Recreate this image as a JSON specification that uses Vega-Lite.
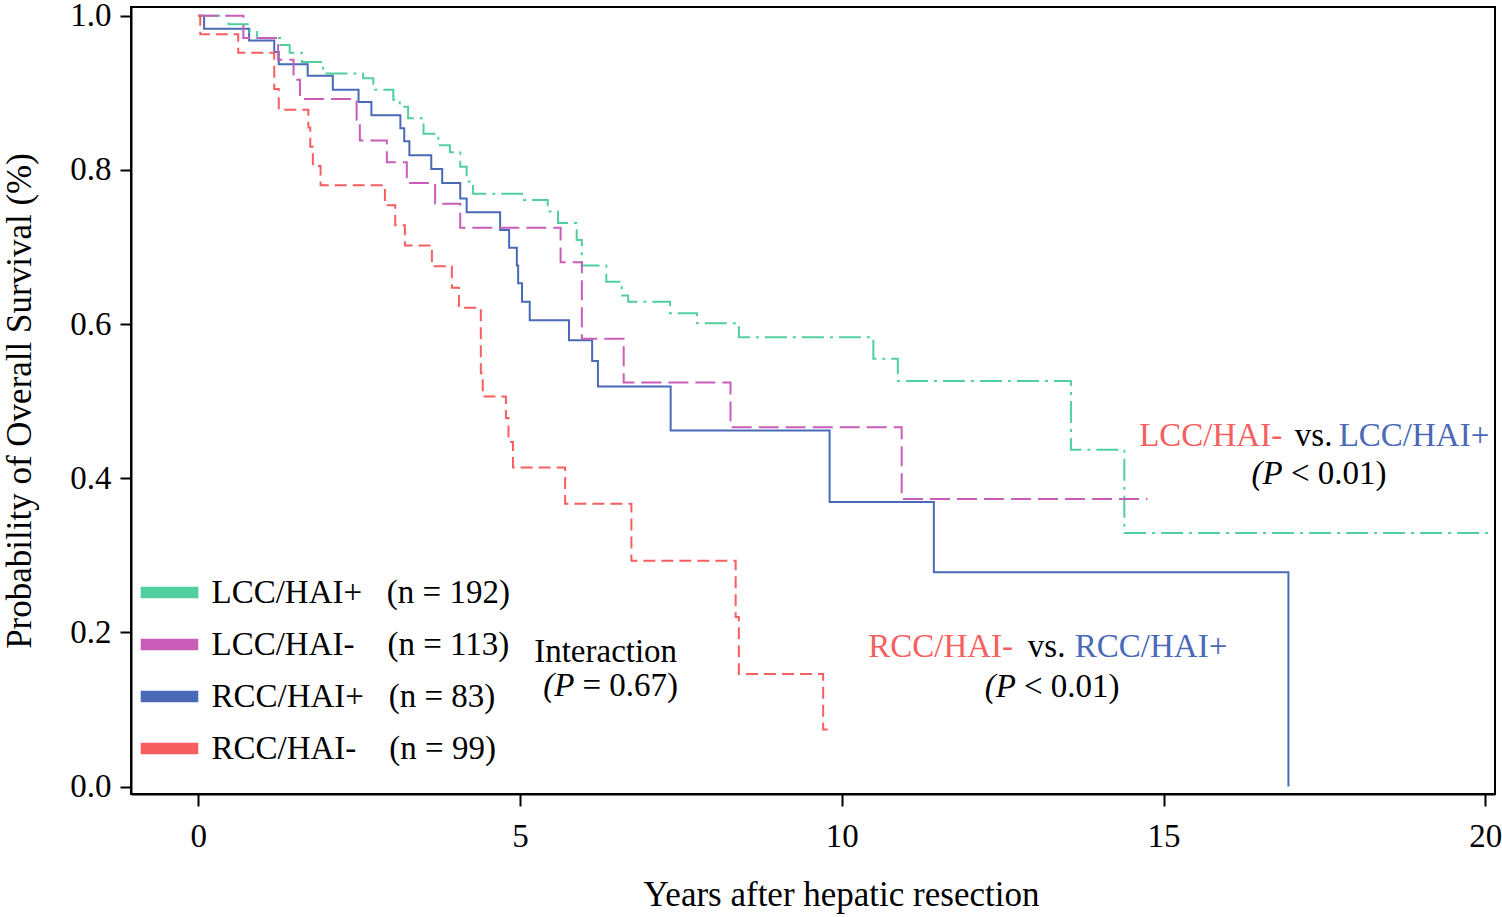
{
  "$schema": "https://vega.github.io/schema/vega-lite/v6.json",
  "width": 1364,
  "height": 787,
  "autosize": {"type": "none"},
  "padding": {"left": 131, "top": 7, "right": 7, "bottom": 123},
  "background": "white",
  "config": {
    "view": {"stroke": "black", "strokeWidth": 2},
    "font": "Liberation Serif",
    "axis": {
      "labelFont": "Liberation Serif",
      "titleFont": "Liberation Serif",
      "labelColor": "black",
      "titleColor": "black",
      "domainColor": "black",
      "tickColor": "black",
      "domainWidth": 2,
      "tickWidth": 2,
      "grid": false,
      "labelFontSize": 33,
      "titleFontSize": 35,
      "titleFontWeight": "normal"
    },
    "legend": {
      "labelFont": "Liberation Serif",
      "labelFontSize": 33,
      "labelColor": "black"
    }
  },
  "datasets": {
    "km": [
      {"group": "LCC/HAI+", "t": 0, "s": 1.0},
      {"group": "LCC/HAI+", "t": 0.47, "s": 0.989},
      {"group": "LCC/HAI+", "t": 0.80, "s": 0.979},
      {"group": "LCC/HAI+", "t": 0.91, "s": 0.971},
      {"group": "LCC/HAI+", "t": 1.27, "s": 0.962},
      {"group": "LCC/HAI+", "t": 1.42, "s": 0.952},
      {"group": "LCC/HAI+", "t": 1.61, "s": 0.940},
      {"group": "LCC/HAI+", "t": 1.94, "s": 0.925},
      {"group": "LCC/HAI+", "t": 2.56, "s": 0.919},
      {"group": "LCC/HAI+", "t": 2.72, "s": 0.904},
      {"group": "LCC/HAI+", "t": 3.03, "s": 0.891},
      {"group": "LCC/HAI+", "t": 3.13, "s": 0.882},
      {"group": "LCC/HAI+", "t": 3.26, "s": 0.867},
      {"group": "LCC/HAI+", "t": 3.50, "s": 0.847},
      {"group": "LCC/HAI+", "t": 3.73, "s": 0.832},
      {"group": "LCC/HAI+", "t": 3.91, "s": 0.823},
      {"group": "LCC/HAI+", "t": 4.07, "s": 0.804},
      {"group": "LCC/HAI+", "t": 4.17, "s": 0.785},
      {"group": "LCC/HAI+", "t": 4.27, "s": 0.769},
      {"group": "LCC/HAI+", "t": 5.03, "s": 0.761},
      {"group": "LCC/HAI+", "t": 5.43, "s": 0.746},
      {"group": "LCC/HAI+", "t": 5.59, "s": 0.731},
      {"group": "LCC/HAI+", "t": 5.88, "s": 0.709},
      {"group": "LCC/HAI+", "t": 5.96, "s": 0.676},
      {"group": "LCC/HAI+", "t": 6.34, "s": 0.655},
      {"group": "LCC/HAI+", "t": 6.58, "s": 0.637},
      {"group": "LCC/HAI+", "t": 6.68, "s": 0.629},
      {"group": "LCC/HAI+", "t": 7.33, "s": 0.614},
      {"group": "LCC/HAI+", "t": 7.75, "s": 0.601},
      {"group": "LCC/HAI+", "t": 8.40, "s": 0.583},
      {"group": "LCC/HAI+", "t": 10.49, "s": 0.555},
      {"group": "LCC/HAI+", "t": 10.87, "s": 0.526},
      {"group": "LCC/HAI+", "t": 13.56, "s": 0.437},
      {"group": "LCC/HAI+", "t": 14.39, "s": 0.329},
      {"group": "LCC/HAI+", "t": 20.07, "s": 0.329},

      {"group": "LCC/HAI-", "t": 0, "s": 1.0},
      {"group": "LCC/HAI-", "t": 0.70, "s": 0.971},
      {"group": "LCC/HAI-", "t": 1.24, "s": 0.943},
      {"group": "LCC/HAI-", "t": 1.48, "s": 0.917},
      {"group": "LCC/HAI-", "t": 1.58, "s": 0.892},
      {"group": "LCC/HAI-", "t": 2.46, "s": 0.865},
      {"group": "LCC/HAI-", "t": 2.51, "s": 0.838},
      {"group": "LCC/HAI-", "t": 2.93, "s": 0.810},
      {"group": "LCC/HAI-", "t": 3.24, "s": 0.783},
      {"group": "LCC/HAI-", "t": 3.68, "s": 0.756},
      {"group": "LCC/HAI-", "t": 4.07, "s": 0.725},
      {"group": "LCC/HAI-", "t": 5.63, "s": 0.680},
      {"group": "LCC/HAI-", "t": 5.96, "s": 0.581},
      {"group": "LCC/HAI-", "t": 6.61, "s": 0.524},
      {"group": "LCC/HAI-", "t": 8.27, "s": 0.466},
      {"group": "LCC/HAI-", "t": 10.93, "s": 0.373},
      {"group": "LCC/HAI-", "t": 14.75, "s": 0.373},

      {"group": "RCC/HAI+", "t": 0, "s": 1.0},
      {"group": "RCC/HAI+", "t": 0.09, "s": 0.983},
      {"group": "RCC/HAI+", "t": 0.79, "s": 0.968},
      {"group": "RCC/HAI+", "t": 1.18, "s": 0.953},
      {"group": "RCC/HAI+", "t": 1.25, "s": 0.937},
      {"group": "RCC/HAI+", "t": 1.70, "s": 0.922},
      {"group": "RCC/HAI+", "t": 2.09, "s": 0.904},
      {"group": "RCC/HAI+", "t": 2.49, "s": 0.888},
      {"group": "RCC/HAI+", "t": 2.69, "s": 0.871},
      {"group": "RCC/HAI+", "t": 3.14, "s": 0.854},
      {"group": "RCC/HAI+", "t": 3.20, "s": 0.837},
      {"group": "RCC/HAI+", "t": 3.28, "s": 0.819},
      {"group": "RCC/HAI+", "t": 3.62, "s": 0.801},
      {"group": "RCC/HAI+", "t": 3.79, "s": 0.783},
      {"group": "RCC/HAI+", "t": 4.07, "s": 0.763},
      {"group": "RCC/HAI+", "t": 4.17, "s": 0.745},
      {"group": "RCC/HAI+", "t": 4.69, "s": 0.722},
      {"group": "RCC/HAI+", "t": 4.83, "s": 0.699},
      {"group": "RCC/HAI+", "t": 4.95, "s": 0.676},
      {"group": "RCC/HAI+", "t": 4.97, "s": 0.653},
      {"group": "RCC/HAI+", "t": 5.03, "s": 0.629},
      {"group": "RCC/HAI+", "t": 5.15, "s": 0.605},
      {"group": "RCC/HAI+", "t": 5.76, "s": 0.579},
      {"group": "RCC/HAI+", "t": 6.12, "s": 0.552},
      {"group": "RCC/HAI+", "t": 6.21, "s": 0.519},
      {"group": "RCC/HAI+", "t": 7.34, "s": 0.462},
      {"group": "RCC/HAI+", "t": 9.81, "s": 0.369},
      {"group": "RCC/HAI+", "t": 11.43, "s": 0.278},
      {"group": "RCC/HAI+", "t": 16.94, "s": 0.0},

      {"group": "RCC/HAI-", "t": 0, "s": 1.0},
      {"group": "RCC/HAI-", "t": 0.03, "s": 0.976},
      {"group": "RCC/HAI-", "t": 0.62, "s": 0.952},
      {"group": "RCC/HAI-", "t": 1.18, "s": 0.905},
      {"group": "RCC/HAI-", "t": 1.25, "s": 0.878},
      {"group": "RCC/HAI-", "t": 1.71, "s": 0.855},
      {"group": "RCC/HAI-", "t": 1.74, "s": 0.830},
      {"group": "RCC/HAI-", "t": 1.78, "s": 0.805},
      {"group": "RCC/HAI-", "t": 1.90, "s": 0.780},
      {"group": "RCC/HAI-", "t": 2.90, "s": 0.754},
      {"group": "RCC/HAI-", "t": 3.06, "s": 0.728},
      {"group": "RCC/HAI-", "t": 3.21, "s": 0.702},
      {"group": "RCC/HAI-", "t": 3.63, "s": 0.675},
      {"group": "RCC/HAI-", "t": 3.94, "s": 0.647},
      {"group": "RCC/HAI-", "t": 4.05, "s": 0.621},
      {"group": "RCC/HAI-", "t": 4.39, "s": 0.536},
      {"group": "RCC/HAI-", "t": 4.42, "s": 0.506},
      {"group": "RCC/HAI-", "t": 4.78, "s": 0.478},
      {"group": "RCC/HAI-", "t": 4.82, "s": 0.447},
      {"group": "RCC/HAI-", "t": 4.89, "s": 0.414},
      {"group": "RCC/HAI-", "t": 5.70, "s": 0.367},
      {"group": "RCC/HAI-", "t": 6.73, "s": 0.293},
      {"group": "RCC/HAI-", "t": 8.35, "s": 0.220},
      {"group": "RCC/HAI-", "t": 8.40, "s": 0.146},
      {"group": "RCC/HAI-", "t": 9.71, "s": 0.074},
      {"group": "RCC/HAI-", "t": 9.78, "s": 0.074}
    ]
  },
  "layer": [
    {
      "data": {"name": "km"},
      "transform": [{"filter": "datum.group == 'RCC/HAI+'"}],
      "mark": {"type": "line", "interpolate": "step-after", "strokeWidth": 2},
      "encoding": {
        "x": {
          "field": "t", "type": "quantitative",
          "scale": {"domain": [-1.046, 20.15], "nice": false, "zero": false},
          "axis": {
            "values": [0, 5, 10, 15, 20],
            "format": "d",
            "title": "Years after hepatic resection",
            "tickSize": 12,
            "labelPadding": 14,
            "titlePadding": 24,
            "titleX": 710
          }
        },
        "y": {
          "field": "s", "type": "quantitative",
          "scale": {"domain": [-0.0097, 1.0113], "nice": false, "zero": false},
          "axis": {
            "values": [0, 0.2, 0.4, 0.6, 0.8, 1.0],
            "format": ".1f",
            "title": "Probability of Overall Survival (%)",
            "tickSize": 11,
            "labelPadding": 9,
            "titlePadding": 32
          }
        },
        "color": {
          "field": "group", "type": "nominal",
          "scale": {
            "domain": ["LCC/HAI+", "LCC/HAI-", "RCC/HAI+", "RCC/HAI-"],
            "range": ["#52cf9f", "#c95db7", "#4a69b7", "#f65f5f"]
          },
          "legend": {
            "title": null,
            "orient": "none",
            "legendX": 3.5,
            "legendY": 569,
            "padding": 0,
            "symbolType": "stroke",
            "symbolSize": 3318,
            "symbolStrokeWidth": 11.5,
            "symbolDash": [1, 0],
            "labelOffset": 7,
            "clipHeight": 33,
            "rowPadding": 18,
            "labelLimit": 600,
            "labelExpr": "datum.label == 'LCC/HAI+' ? 'LCC/HAI+\u00a0\u00a0\u00a0(n = 192)' : datum.label == 'LCC/HAI-' ? 'LCC/HAI-\u00a0\u00a0\u00a0\u00a0(n = 113)' : datum.label == 'RCC/HAI+' ? 'RCC/HAI+\u00a0\u00a0\u00a0(n = 83)' : 'RCC/HAI-\u00a0\u00a0\u00a0\u00a0(n = 99)'",
            "encode": {
              "symbols": {"update": {"strokeWidth": {"value": 11.5}, "strokeDash": {"value": [1, 0]}}}
            }
          }
        }
      }
    },
    {
      "data": {"name": "km"},
      "transform": [{"filter": "datum.group == 'LCC/HAI+'"}],
      "mark": {"type": "line", "interpolate": "step-after", "strokeWidth": 2, "strokeDash": [22, 6, 3, 6]},
      "encoding": {
        "x": {"field": "t", "type": "quantitative"},
        "y": {"field": "s", "type": "quantitative"},
        "color": {"field": "group", "type": "nominal"}
      }
    },
    {
      "data": {"name": "km"},
      "transform": [{"filter": "datum.group == 'LCC/HAI-'"}],
      "mark": {"type": "line", "interpolate": "step-after", "strokeWidth": 2, "strokeDash": [20, 7]},
      "encoding": {
        "x": {"field": "t", "type": "quantitative"},
        "y": {"field": "s", "type": "quantitative"},
        "color": {"field": "group", "type": "nominal"}
      }
    },
    {
      "data": {"name": "km"},
      "transform": [{"filter": "datum.group == 'RCC/HAI-'"}],
      "mark": {"type": "line", "interpolate": "step-after", "strokeWidth": 2, "strokeDash": [12, 6]},
      "encoding": {
        "x": {"field": "t", "type": "quantitative"},
        "y": {"field": "s", "type": "quantitative"},
        "color": {"field": "group", "type": "nominal"}
      }
    },
    {
      "data": {"values": [{}]},
      "mark": {"type": "text", "text": "LCC/HAI-", "font": "Liberation Serif", "fontSize": 33, "align": "left", "baseline": "alphabetic", "color": "#f65f5f"},
      "encoding": {"x": {"datum": 14.62}, "y": {"datum": 0.442}}
    },
    {
      "data": {"values": [{}]},
      "mark": {"type": "text", "text": "vs.", "font": "Liberation Serif", "fontSize": 33, "align": "left", "baseline": "alphabetic", "color": "black"},
      "encoding": {"x": {"datum": 17.04}, "y": {"datum": 0.442}}
    },
    {
      "data": {"values": [{}]},
      "mark": {"type": "text", "text": "LCC/HAI+", "font": "Liberation Serif", "fontSize": 33, "align": "left", "baseline": "alphabetic", "color": "#4a69b7"},
      "encoding": {"x": {"datum": 17.72}, "y": {"datum": 0.442}}
    },
    {
      "data": {"values": [{}]},
      "mark": {"type": "text", "text": "(P", "font": "Liberation Serif", "fontSize": 33, "fontStyle": "italic", "align": "left", "baseline": "alphabetic", "color": "black"},
      "encoding": {"x": {"datum": 16.365}, "y": {"datum": 0.392}}
    },
    {
      "data": {"values": [{}]},
      "mark": {"type": "text", "text": "< 0.01)", "font": "Liberation Serif", "fontSize": 33, "align": "left", "baseline": "alphabetic", "color": "black"},
      "encoding": {"x": {"datum": 16.978}, "y": {"datum": 0.392}}
    },
    {
      "data": {"values": [{}]},
      "mark": {"type": "text", "text": "RCC/HAI-", "font": "Liberation Serif", "fontSize": 33, "align": "left", "baseline": "alphabetic", "color": "#f65f5f"},
      "encoding": {"x": {"datum": 10.41}, "y": {"datum": 0.168}}
    },
    {
      "data": {"values": [{}]},
      "mark": {"type": "text", "text": "vs.", "font": "Liberation Serif", "fontSize": 33, "align": "left", "baseline": "alphabetic", "color": "black"},
      "encoding": {"x": {"datum": 12.89}, "y": {"datum": 0.168}}
    },
    {
      "data": {"values": [{}]},
      "mark": {"type": "text", "text": "RCC/HAI+", "font": "Liberation Serif", "fontSize": 33, "align": "left", "baseline": "alphabetic", "color": "#4a69b7"},
      "encoding": {"x": {"datum": 13.62}, "y": {"datum": 0.168}}
    },
    {
      "data": {"values": [{}]},
      "mark": {"type": "text", "text": "(P", "font": "Liberation Serif", "fontSize": 33, "fontStyle": "italic", "align": "left", "baseline": "alphabetic", "color": "black"},
      "encoding": {"x": {"datum": 12.22}, "y": {"datum": 0.116}}
    },
    {
      "data": {"values": [{}]},
      "mark": {"type": "text", "text": "< 0.01)", "font": "Liberation Serif", "fontSize": 33, "align": "left", "baseline": "alphabetic", "color": "black"},
      "encoding": {"x": {"datum": 12.83}, "y": {"datum": 0.116}}
    },
    {
      "data": {"values": [{}]},
      "mark": {"type": "text", "text": "Interaction", "font": "Liberation Serif", "fontSize": 33, "align": "center", "baseline": "alphabetic", "color": "black"},
      "encoding": {"x": {"datum": 6.33}, "y": {"datum": 0.161}}
    },
    {
      "data": {"values": [{}]},
      "mark": {"type": "text", "text": "(P", "font": "Liberation Serif", "fontSize": 33, "fontStyle": "italic", "align": "left", "baseline": "alphabetic", "color": "black"},
      "encoding": {"x": {"datum": 5.36}, "y": {"datum": 0.118}}
    },
    {
      "data": {"values": [{}]},
      "mark": {"type": "text", "text": "= 0.67)", "font": "Liberation Serif", "fontSize": 33, "align": "left", "baseline": "alphabetic", "color": "black"},
      "encoding": {"x": {"datum": 5.97}, "y": {"datum": 0.118}}
    }
  ]
}
